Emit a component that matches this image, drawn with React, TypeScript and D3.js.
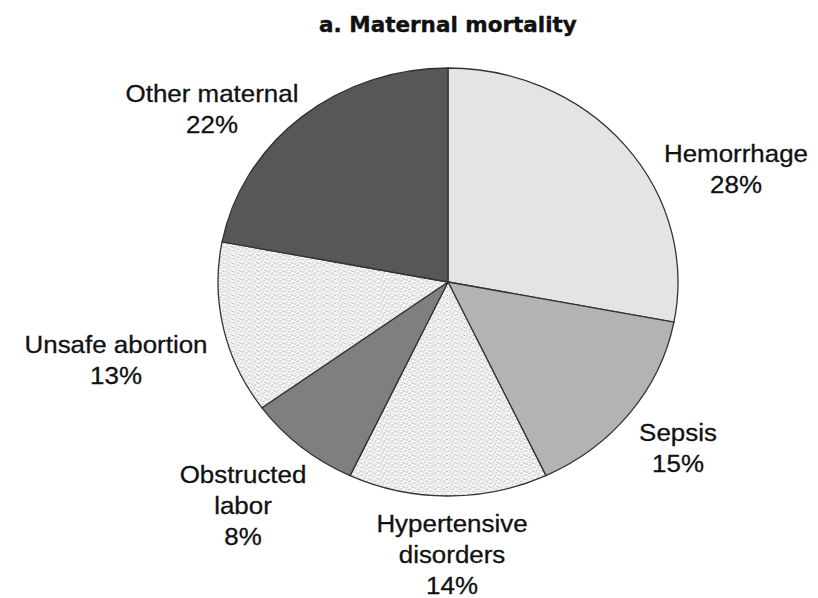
import React from "react";
import * as d3 from "d3";

const categories = ["Hemorrhage", "Sepsis", "Hypertensive disorders", "Obstructed labor", "Unsafe abortion", "Other maternal"];
const values = [28, 15, 14, 8, 13, 22];
const labelLines = [
  ["Hemorrhage"],
  ["Sepsis"],
  ["Hypertensive", "disorders"],
  ["Obstructed", "labor"],
  ["Unsafe abortion"],
  ["Other maternal"],
];
const title = "a. Maternal mortality";

// layout / style (not data)
const W = 818, H = 598;
const CX = 448, CY = 282, RX = 230, RY = 214;
const fills = ["#e4e4e4", "#b3b3b3", "url(#stipple)", "#7f7f7f", "url(#stipple)", "#575757"];
const labelPos: [number, number][] = [
  [736, 162],
  [678, 441],
  [452, 532],
  [243, 483],
  [116, 353],
  [212, 102],
];
const LINE = 31;
const dots: [number, number][] = [
  [0.5, 0.5], [3.5, 1.5], [2, 3.5], [5.5, 4], [1, 5.5], [4.5, 6.5], [6.5, 1], [3, 7], [7, 5],
];

export default function App() {
  const pie = d3.pie<number>().value((d) => d).sort(null)(values);
  const arc = d3.arc<d3.PieArcDatum<number>>().innerRadius(0).outerRadius(RY);
  const fmt = d3.format(".0f");
  return (
    <svg width={W} height={H} style={{ display: "block", position: "absolute", left: 0, top: 0, background: "#fff" }}>
      <defs>
        <pattern id="stipple" width={8} height={8} patternUnits="userSpaceOnUse">
          <rect width={8} height={8} fill="#f4f4f4" />
          {dots.map(([x, y], i) => (
            <rect key={i} x={x} y={y} width={1} height={1} fill="#aaaaaa" />
          ))}
        </pattern>
      </defs>
      <text x={CX} y={32} textAnchor="middle" fontFamily="'DejaVu Sans', sans-serif" fontWeight="bold" fontSize={21.5} fill="#111" stroke="#111" strokeWidth={0.4}>
        {title}
      </text>
      <g transform={`translate(${CX},${CY}) scale(${RX / RY},1)`}>
        {pie.map((p, i) => (
          <path key={categories[i]} d={arc(p) || ""} fill={fills[i]} stroke="#333" strokeWidth={1.3} vectorEffect="non-scaling-stroke" strokeLinejoin="round" />
        ))}
      </g>
      {labelLines.map((lines, i) => {
        const [x, y] = labelPos[i];
        const all = [...lines, `${fmt(values[i])}%`];
        return (
          <g key={categories[i]} transform={`translate(${x},${y}) scale(1.08,1)`}>
            <text x={0} y={0} textAnchor="middle" fontFamily="'Liberation Sans', Arial, sans-serif" fontSize={24} fill="#111" stroke="#111" strokeWidth={0.3}>
              {all.map((t, j) => (
                <tspan key={j} x={0} dy={j === 0 ? 0 : LINE}>{t}</tspan>
              ))}
            </text>
          </g>
        );
      })}
    </svg>
  );
}
